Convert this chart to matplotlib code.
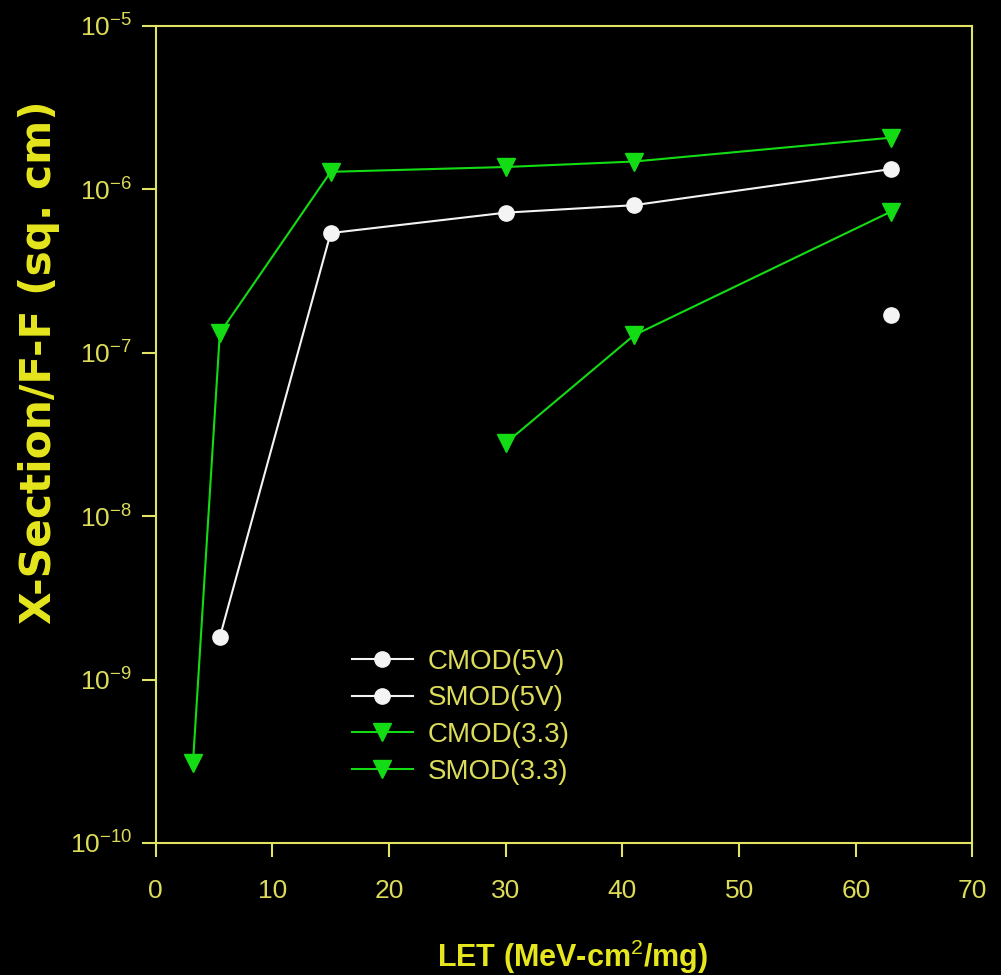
import matplotlib
matplotlib.use('Agg')
import matplotlib.pyplot as plt
from matplotlib.ticker import NullLocator, FixedLocator

plt.rcParams['font.family'] = ['Liberation Sans', 'DejaVu Sans']
plt.rcParams['mathtext.fontset'] = 'custom'
plt.rcParams['mathtext.rm'] = 'Liberation Sans'
plt.rcParams['mathtext.it'] = 'Liberation Sans'
plt.rcParams['mathtext.bf'] = 'Liberation Sans:bold'

# data
cmod_5v_x = [5.5, 15, 30, 41, 63]
cmod_5v_y = [1.82e-9, 5.4e-7, 7.2e-7, 8.0e-7, 1.33e-6]
smod_5v_x = [63]
smod_5v_y = [1.7e-7]
cmod_33_x = [3.2, 5.5, 15, 30, 41, 63]
cmod_33_y = [3.1e-10, 1.32e-7, 1.28e-6, 1.37e-6, 1.48e-6, 2.07e-6]
smod_33_x = [30, 41, 63]
smod_33_y = [2.8e-8, 1.28e-7, 7.3e-7]

x_ticks = [0, 10, 20, 30, 40, 50, 60, 70]
y_exps = [-10, -9, -8, -7, -6, -5]

axis_col = '#e2e264'
tick_txt = '#dcdc5a'
label_col = '#e6e61e'
green = '#14dc14'
white = '#f4f4f4'

fig = plt.figure(figsize=(10.01, 9.75), dpi=100)
fig.patch.set_facecolor('black')
ax = fig.add_axes([0.1555, 0.1354, 0.816, 0.838])
ax.set_facecolor('black')

ax.plot(cmod_5v_x, cmod_5v_y, color=white, lw=1.5, marker='o', ms=11,
	mfc=white, mec=white, label='CMOD(5V)')
ax.plot(smod_5v_x, smod_5v_y, color=white, lw=1.5, marker='o', ms=11,
	mfc=white, mec=white, label='SMOD(5V)')
ax.plot(cmod_33_x, cmod_33_y, color=green, lw=1.5, marker='v', ms=13,
	mfc=green, mec=green, label='CMOD(3.3)')
ax.plot(smod_33_x, smod_33_y, color=green, lw=1.5, marker='v', ms=13,
	mfc=green, mec=green, label='SMOD(3.3)')

ax.set_yscale('log')
ax.set_xlim(0, 70)
ax.set_ylim(1e-10, 1e-5)
ax.xaxis.set_major_locator(FixedLocator(x_ticks))
ax.yaxis.set_major_locator(FixedLocator([10.0**e for e in y_exps]))
ax.yaxis.set_minor_locator(NullLocator())
ax.set_yticklabels(['10$^{\\mathrm{-%d}}$' % (-e) for e in y_exps])

for s in ax.spines.values():
	s.set_color(axis_col)
	s.set_linewidth(1.5)

ax.tick_params(axis='both', which='major', direction='out', length=10, width=1.5,
	color=axis_col, labelcolor=tick_txt, labelsize=19)
ax.tick_params(axis='x', pad=16)
ax.tick_params(axis='y', pad=7)

ax.set_xlabel('LET (MeV-cm$^{2}$/mg)', color=label_col, fontsize=22, fontweight='bold')
ax.xaxis.set_label_coords(0.51, -0.116)
ax.set_ylabel('X-Section/F-F (sq. cm)', color=label_col, fontsize=30.5,
	fontweight='bold', family=['DejaVu Sans'])
ax.yaxis.set_label_coords(-0.117, 0.589)

leg = ax.legend(loc='upper left', bbox_to_anchor=(0.240, 0.2375), frameon=False,
	fontsize=20, handlelength=2.2, handletextpad=0.55, labelspacing=0.38,
	borderpad=0, borderaxespad=0)
for t in leg.get_texts():
	t.set_color(tick_txt)

fig.savefig('out.png', dpi=100, facecolor='black')
